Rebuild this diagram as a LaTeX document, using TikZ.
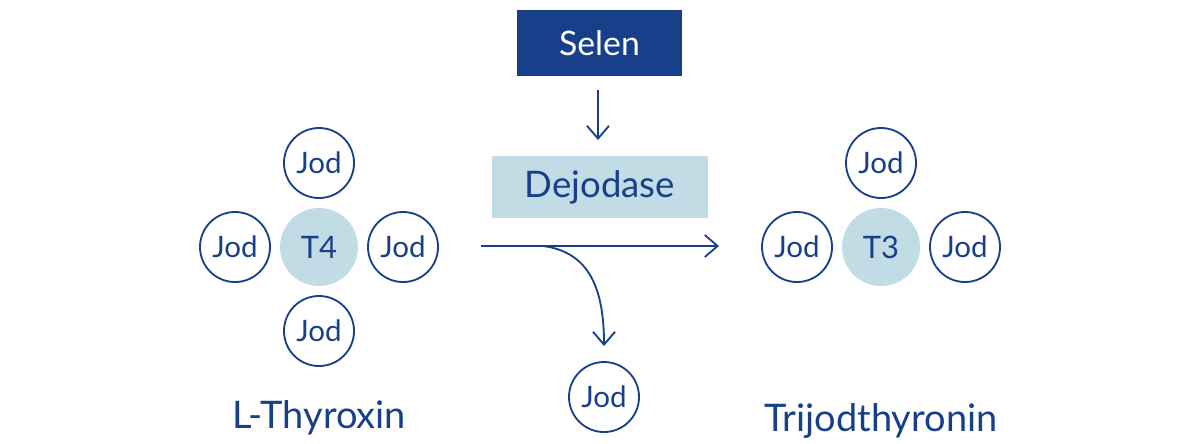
\documentclass[tikz,border=0pt]{standalone}
\usepackage{fontspec}
\setmainfont{Lato}
\usetikzlibrary{positioning,arrows.meta}
\definecolor{navy}{HTML}{173F8A}
\definecolor{paleblue}{HTML}{C2DCE5}
\begin{document}
\begin{tikzpicture}[x=0.025cm, y=-0.025cm, >={Straight Barb[length=0.32cm, width=0.55cm]},
  line width=1.3pt, draw=navy,
  jod/.style={circle, draw=navy, line width=1.3pt, minimum size=1.75cm, inner sep=0pt, text=navy, font=\fontsize{21}{25}\selectfont},
  core/.style={circle, fill=paleblue, minimum size=1.95cm, inner sep=0pt, text=navy, font=\fontsize{22}{26}\selectfont},
  label/.style={text=navy, font=\fontsize{27}{32}\selectfont}]
\useasboundingbox (0,0) rectangle (1200,443);
\node[fill=navy, text=white, minimum width=4.12cm, minimum height=1.65cm, font=\fontsize{24}{28}\selectfont] (selen) at (599.5,43) {Selen};
\node[fill=paleblue, text=navy, minimum width=5.42cm, minimum height=1.55cm, font=\fontsize{26}{30}\selectfont] (dej) at (600,187) {Dejodase};
\coordinate (sa) at (598,90); \coordinate (sb) at (598,140);
\draw[->, navy] (sa) -- (sb);
% T4
\node[core] (t4) at (319,247) {T4};
\node[jod] (t4n) at (319,163) {Jod};
\node[jod] (t4w) at (235,247) {Jod};
\node[jod] (t4e) at (403,247) {Jod};
\node[jod] (t4s) at (319,331) {Jod};
\node[label] (lt4) at (319,418) {L-Thyroxin};
% T3
\node[core] (t3) at (881,247) {T3};
\node[jod] (t3n) at (881,163) {Jod};
\node[jod] (t3w) at (797,247) {Jod};
\node[jod] (t3e) at (965,247) {Jod};
\node[label] (lt3) at (881,421) {Trijodthyronin};
% reaction
\node[jod] (free) at (604,397) {Jod};
\coordinate (ra) at (481,246); \coordinate (rb) at (719,246); \coordinate (rc) at (543,246);
\draw[->, navy] (ra) -- (rb);
\draw[->, navy] (rc) .. controls (590,252) and (604,290) .. (604,346);
\end{tikzpicture}
\end{document}
